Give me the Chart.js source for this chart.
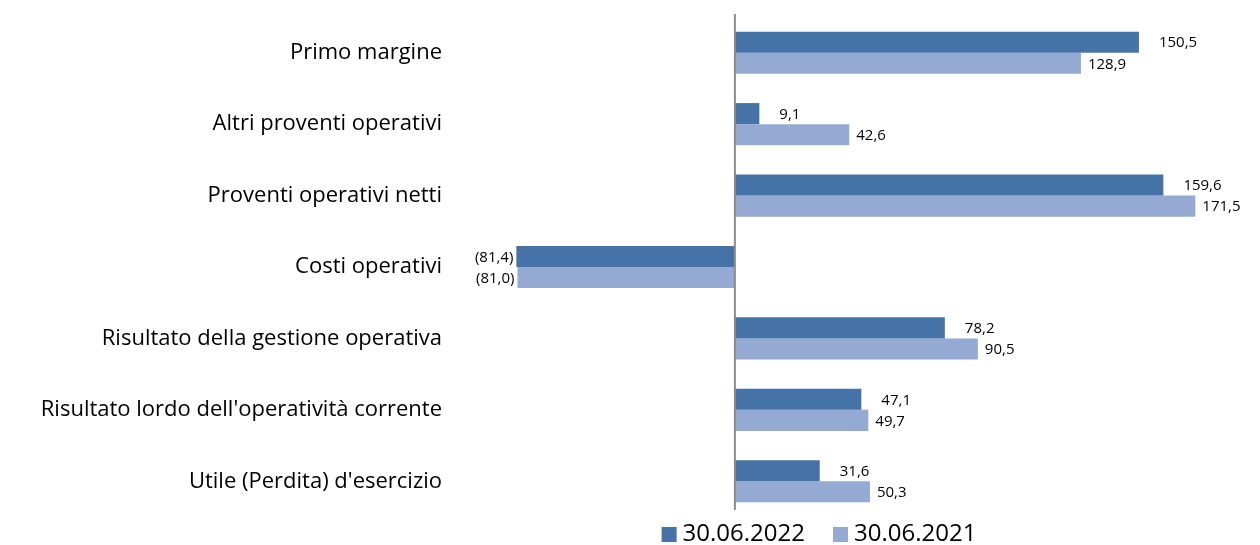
<!DOCTYPE html>
<html>
<head>
<meta charset="utf-8">
<script src="https://cdn.jsdelivr.net/npm/chart.js@4.4.1/dist/chart.umd.min.js"></script>
<style>
  html, body { margin: 0; padding: 0; background: #fff; }
  #wrap { width: 1260px; height: 545px; }
</style>
</head>
<body>
<div id="wrap"><canvas id="myChart"></canvas></div>
<script>
let categories = ['Primo margine', 'Altri proventi operativi', 'Proventi operativi netti', 'Costi operativi',
                  'Risultato della gestione operativa', "Risultato lordo dell'operatività corrente", "Utile (Perdita) d'esercizio"];
let values2022 = [150.5, 9.1, 159.6, -81.4, 78.2, 47.1, 31.6];
let values2021 = [128.9, 42.6, 171.5, -81.0, 90.5, 49.7, 50.3];
let seriesNames = ['30.06.2022', '30.06.2021'];

let color0 = "#4673a7";
let color1 = "#95aad3";
let fontName = "'Open Sans', 'Noto Sans', sans-serif";

function fmt(v)
{
    let s = Math.abs(v).toFixed(1).replace('.', ',');
    return v < 0 ? '(' + s + ')' : s;
}

// vertical zero line, value labels and legend
let extras = {
    id: 'extras',
    afterDatasetsDraw(chart)
    {
        let c = chart.ctx;
        let area = chart.chartArea;
        let x0 = chart.scales.x.getPixelForValue(0);
        c.save();
        c.strokeStyle = '#8c8c8c';
        c.lineWidth = 2;
        c.beginPath();
        c.moveTo(x0, area.top - 3);
        c.lineTo(x0, area.bottom - 7);
        c.stroke();

        c.font = '15px ' + fontName;
        c.fillStyle = '#000';
        c.textBaseline = 'middle';
        chart.data.datasets.forEach(function(ds, i)
        {
            let meta = chart.getDatasetMeta(i);
            meta.data.forEach(function(bar, j)
            {
                let v = ds.data[j];
                if (v >= 0) {
                    c.textAlign = 'left';
                    c.fillText(fmt(v), bar.x + (i == 0 ? 20 : 7), bar.y + 1);
                } else {
                    c.textAlign = 'right';
                    c.fillText(fmt(v), bar.x - 3, bar.y + 1);
                }
            });
        });

        // legend
        c.font = '24px ' + fontName;
        c.textAlign = 'left';
        let box = 15, gap = 6, between = 28;
        let widths = chart.data.datasets.map(function(ds) { return c.measureText(ds.label).width; });
        let total = 0;
        widths.forEach(function(w, i) { total += box + gap + w + (i > 0 ? between : 0); });
        let x = 819 - total / 2;
        let y = 534;
        chart.data.datasets.forEach(function(ds, i)
        {
            c.fillStyle = ds.backgroundColor;
            c.fillRect(x, y - 7, box, 15);
            c.fillStyle = '#000';
            c.fillText(ds.label, x + box + gap, y);
            x += box + gap + widths[i] + between;
        });
        c.restore();
    }
};

let ctx = document.getElementById('myChart').getContext('2d');

let myChart = new Chart(ctx,
{
    type: 'bar',
    data:
    {
        labels: categories,
        datasets:
        [
            { label: seriesNames[0], data: values2022, backgroundColor: color0, borderWidth: 0 },
            { label: seriesNames[1], data: values2021, backgroundColor: color1, borderWidth: 0 }
        ]
    },
    options:
    {
        indexAxis: 'y',
        responsive: true,
        maintainAspectRatio: false,
        animation: false,
        layout: { padding: { top: 17, right: 15, left: 0, bottom: 28 } },
        datasets: { bar: { barPercentage: 1, categoryPercentage: 0.59 } },
        scales:
        {
            x: { display: false, min: -105, max: 190 },
            y:
            {
                grid: { display: false, drawTicks: false },
                border: { display: false },
                ticks: { color: '#000', padding: 11, font: { family: fontName, size: 22 } },
                afterFit: function(scale)
                {
                    scale.width = 453;
                    scale.paddingTop = 0;
                    scale.paddingBottom = 0;
                }
            }
        },
        plugins:
        {
            tooltip: { enabled: false },
            legend: { display: false }
        }
    },
    plugins: [extras]
});
</script>
</body>
</html>
